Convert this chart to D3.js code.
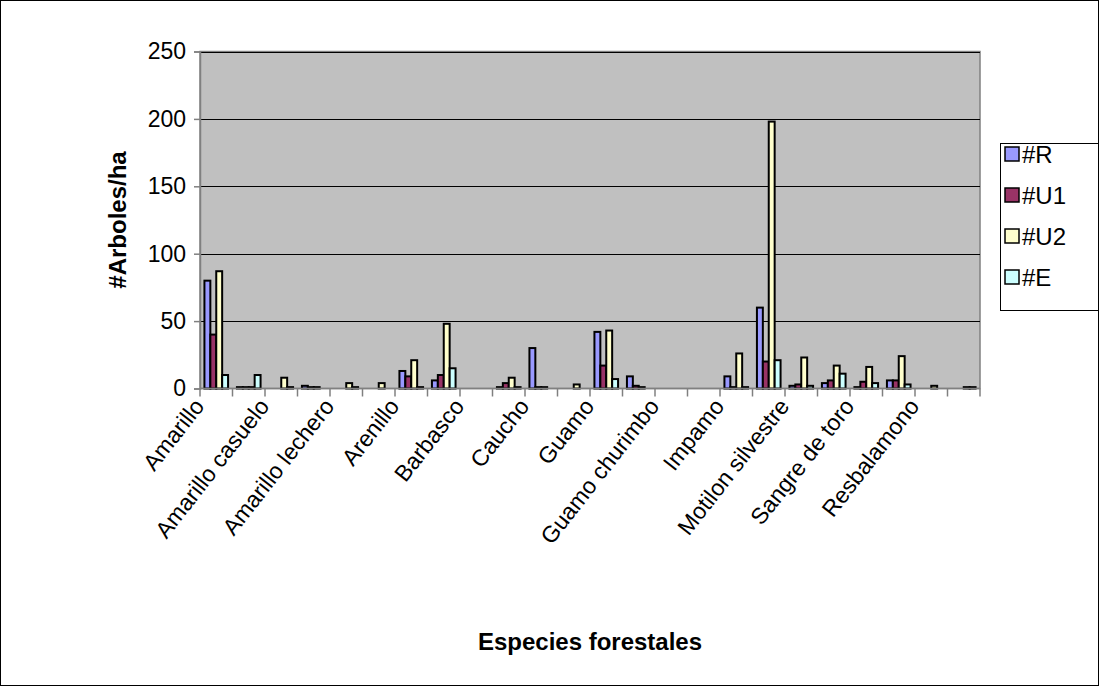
<!DOCTYPE html>
<html>
<head>
<meta charset="utf-8">
<script src="https://cdn.jsdelivr.net/npm/d3@7"></script>
<style>
  html, body { margin: 0; padding: 0; background: #fff; }
  svg { display: block; font-family: "Liberation Sans", Arial, sans-serif; }
</style>
</head>
<body>
<svg id="chart" width="1100" height="687"></svg>
<script>
// Species along the x axis (only every other name is printed; null = name not shown)
const categories = [
  "Amarillo", null, "Amarillo casuelo", null, "Amarillo lechero", null,
  "Arenillo", null, "Barbasco", null, "Caucho", null,
  "Guamo", null, "Guamo churimbo", null, "Impamo", null,
  "Motilon silvestre", null, "Sangre de toro", null, "Resbalamono", null
];

const seriesNames = ["#R", "#U1", "#U2", "#E"];
const seriesColors = ["#9999FF", "#993366", "#FFFFCC", "#CCFFFF"];

// Trees per hectare by species and class
const valuesR  = [80, 1, 0, 2, 0, 0, 13, 6, 0, 1, 30, 0, 42, 9, 0, 0, 9, 60, 2, 4, 1, 6, 0, 0];
const valuesU1 = [40, 1, 0, 1, 0, 0, 9, 10, 0, 4, 1, 0, 17, 2, 0, 0, 1, 20, 3, 6, 5, 6, 0, 0];
const valuesU2 = [87, 1, 8, 1, 4, 4, 21, 48, 0, 8, 1, 3, 43, 1, 0, 0, 26, 198, 23, 17, 16, 24, 2, 1];
const valuesE  = [10, 10, 1, 0, 1, 0, 1, 15, 0, 1, 0, 0, 7, 0, 0, 0, 1, 21, 2, 11, 4, 3, 0, 1];

const yTicks = [0, 50, 100, 150, 200, 250];

const seriesValues = [valuesR, valuesU1, valuesU2, valuesE];

const svg = d3.select("#chart");

// Outer chart frame
svg.append("rect")
  .attr("x", 0.5).attr("y", 0.5)
  .attr("width", 1098).attr("height", 685)
  .attr("fill", "#fff").attr("stroke", "#000").attr("stroke-width", 1);

const plot = { left: 200, right: 980, top: 51.5, bottom: 388.5 };

const x = d3.scaleBand()
  .domain(d3.range(categories.length))
  .range([plot.left, plot.right])
  .paddingInner(0).paddingOuter(0);

const xs = d3.scaleBand()
  .domain(d3.range(seriesNames.length))
  .range([0, x.bandwidth()])
  .paddingInner(0).paddingOuter(0.75);

const y = d3.scaleLinear()
  .domain([0, 250])
  .range([plot.bottom, plot.top]);

// Plot area background
svg.append("rect")
  .attr("x", plot.left).attr("y", plot.top)
  .attr("width", plot.right - plot.left).attr("height", plot.bottom - plot.top)
  .attr("fill", "#C0C0C0").attr("stroke", "#808080").attr("stroke-width", 1.5);

// Horizontal gridlines
svg.append("g")
  .selectAll("line")
  .data(yTicks.filter(t => t > 0))
  .join("line")
  .attr("x1", plot.left).attr("x2", plot.right)
  .attr("y1", d => Math.round(y(d)) + 0.5).attr("y2", d => Math.round(y(d)) + 0.5)
  .attr("stroke", "#000").attr("stroke-width", 1);

// Y axis
const yAxis = d3.axisLeft(y).tickValues(yTicks).tickSize(6).tickPadding(8);
const yg = svg.append("g")
  .attr("transform", `translate(${plot.left},0)`)
  .call(yAxis);
yg.select(".domain").attr("stroke", "#808080").attr("stroke-width", 1.5);
yg.selectAll(".tick line").attr("stroke", "#808080").attr("stroke-width", 1.5);
yg.selectAll(".tick text")
  .attr("font-size", 23).attr("fill", "#000")
  .attr("font-family", "'Liberation Sans', Arial, sans-serif");

// Bars
const groups = svg.append("g")
  .selectAll("g")
  .data(seriesNames.map((name, s) => ({ name, s, values: seriesValues[s] })))
  .join("g")
  .attr("fill", d => seriesColors[d.s]);

groups.selectAll("rect")
  .data(d => d.values.map((v, i) => ({ v, i, s: d.s })))
  .join("rect")
  .filter(d => d.v > 0)
  .attr("x", d => x(d.i) + xs(d.s))
  .attr("y", d => y(d.v))
  .attr("width", xs.bandwidth())
  .attr("height", d => y(0) - y(d.v))
  .attr("stroke", "#000")
  .attr("stroke-width", 2);

// X axis line and tick marks at category boundaries
svg.append("line")
  .attr("x1", plot.left).attr("x2", plot.right)
  .attr("y1", plot.bottom).attr("y2", plot.bottom)
  .attr("stroke", "#808080").attr("stroke-width", 1.5);

const boundaries = d3.range(categories.length + 1)
  .map(i => i < categories.length ? x(i) : plot.right);
svg.append("g")
  .selectAll("line")
  .data(boundaries)
  .join("line")
  .attr("x1", d => d).attr("x2", d => d)
  .attr("y1", plot.bottom).attr("y2", plot.bottom + 8)
  .attr("stroke", "#808080").attr("stroke-width", 1.5);

// Rotated category labels
svg.append("g")
  .selectAll("text")
  .data(categories.map((c, i) => ({ c, i })).filter(d => d.c))
  .join("text")
  .attr("transform", d => `translate(${x(d.i) + x.bandwidth() / 2 - 24},${plot.bottom + 8}) rotate(-52)`)
  .attr("text-anchor", "end")
  .attr("dy", "0.72em")
  .attr("font-size", 23)
  .attr("fill", "#000")
  .text(d => d.c);

// Axis titles
svg.append("text")
  .attr("x", (plot.left + plot.right) / 2)
  .attr("y", 650)
  .attr("text-anchor", "middle")
  .attr("font-size", 24).attr("font-weight", "bold")
  .text("Especies forestales");

svg.append("text")
  .attr("transform", `translate(126,${(plot.top + plot.bottom) / 2}) rotate(-90)`)
  .attr("text-anchor", "middle")
  .attr("font-size", 24).attr("font-weight", "bold")
  .text("#Arboles/ha");

// Legend
const legend = svg.append("g");
legend.append("rect")
  .attr("x", 1000.5).attr("y", 143.5)
  .attr("width", 98).attr("height", 167)
  .attr("fill", "#fff").attr("stroke", "#000").attr("stroke-width", 1);

const items = legend.selectAll("g.item")
  .data(seriesNames)
  .join("g")
  .attr("class", "item")
  .attr("transform", (d, i) => `translate(1005,${154 + i * 41})`);

items.append("rect")
  .attr("x", 0).attr("y", -7)
  .attr("width", 14).attr("height", 14)
  .attr("fill", (d, i) => seriesColors[i])
  .attr("stroke", "#000").attr("stroke-width", 1.5);

items.append("text")
  .attr("x", 17).attr("y", 0)
  .attr("dy", "0.36em")
  .attr("font-size", 24)
  .text(d => d);
</script>
</body>
</html>
